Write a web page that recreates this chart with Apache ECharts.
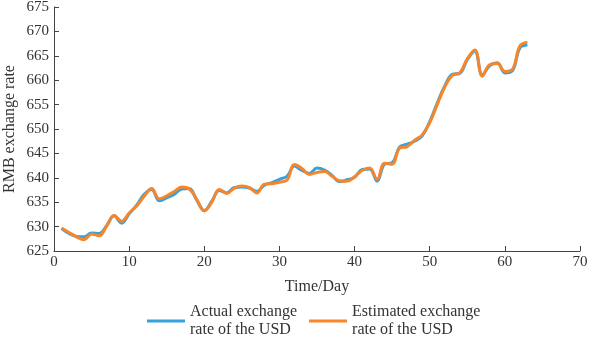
<!DOCTYPE html>
<html>
<head>
<meta charset="utf-8">
<script src="https://cdn.jsdelivr.net/npm/echarts@6/dist/echarts.min.js"></script>
<style>
  html, body { margin: 0; padding: 0; background: #fff; }
  #main { width: 593px; height: 337px; }
</style>
</head>
<body>
<div id="main"></div>
<script>
// day index
var days = [1, 2, 3, 4, 5, 6, 7, 8, 9, 10, 11, 12, 13, 14, 15, 16, 17, 18, 19, 20,
    21, 22, 23, 24, 25, 26, 27, 28, 29, 30, 31, 32, 33, 34, 35, 36, 37, 38, 39, 40,
    41, 42, 43, 44, 45, 46, 47, 48, 49, 50, 51, 52, 53, 54, 55, 56, 57, 58, 59, 60,
    61, 62, 63];

var actualRate = [629.6, 628.6, 628.0, 627.9, 628.7, 628.6, 630.2, 632.2, 630.7, 632.6,
    634.4, 636.6, 637.6, 635.3, 635.9, 636.6, 637.7, 637.8, 635.4, 633.3,
    635.2, 637.4, 636.9, 638.0, 638.1, 637.9, 637.2, 638.5, 639.0, 639.7,
    640.3, 642.4, 641.5, 640.9, 642.0, 641.6, 640.5, 639.2, 639.6, 640.1,
    641.7, 641.8, 639.3, 642.8, 643.1, 646.3, 646.9, 647.5, 648.6, 651.5,
    655.3, 658.8, 661.2, 661.4, 664.2, 666.0, 661.1, 663.0, 663.6, 661.5,
    661.9, 666.6, 667.2];

var estimatedRate = [629.7, 628.8, 627.9, 627.3, 628.5, 628.1, 630.1, 632.3, 631.1, 632.8,
    634.2, 636.2, 637.8, 635.7, 636.3, 637.2, 638.1, 637.7, 635.6, 633.2,
    635.0, 637.6, 636.8, 637.9, 638.3, 638.0, 636.9, 638.7, 638.8, 639.1,
    639.5, 642.7, 641.9, 640.7, 641.1, 641.3, 640.3, 639.4, 639.3, 640.2,
    641.5, 642.0, 639.7, 643.0, 642.8, 646.1, 646.4, 647.7, 648.8, 651.3,
    655.0, 658.6, 661.0, 661.5, 664.4, 666.2, 660.8, 663.2, 663.4, 661.8,
    662.2, 667.0, 667.8];

var seriesNames = ['Actual exchange\nrate of the USD', 'Estimated exchange\nrate of the USD'];

function pairs(xs, ys) {
    var out = [];
    for (var i = 0; i < xs.length; i++) out.push([xs[i], ys[i]]);
    return out;
}

var font = 'Liberation Serif, Times New Roman, serif';
var myChart = echarts.init(document.getElementById('main'));
var option = {
    animation: false,
    grid: {
        left: 54,
        right: 13,
        top: 7,
        bottom: 86,
        outerBoundsMode: 'none'
    },
    legend: {
        data: seriesNames,
        left: 142,
        top: 298,
        icon: 'rect',
        itemWidth: 38,
        itemHeight: 3,
        itemGap: 12,
        textStyle: { fontFamily: font, fontSize: 16, color: '#333', lineHeight: 18 }
    },
    xAxis: {
        type: 'value',
        min: 0,
        max: 70,
        interval: 10,
        name: 'Time/Day',
        nameLocation: 'middle',
        nameGap: 28,
        nameTextStyle: { fontFamily: font, fontSize: 16, color: '#333' },
        axisLine: { show: true, lineStyle: { color: '#444', width: 1 } },
        axisTick: { show: true, inside: true, length: 5, lineStyle: { color: '#444' } },
        axisLabel: { fontFamily: font, fontSize: 15, color: '#333', margin: 4 },
        splitLine: { show: false }
    },
    yAxis: {
        type: 'value',
        min: 625,
        max: 675,
        interval: 5,
        name: 'RMB exchange rate',
        nameLocation: 'middle',
        nameGap: 36,
        nameMoveOverlap: false,
        nameTextStyle: { fontFamily: font, fontSize: 16, color: '#333' },
        axisLine: { show: true, lineStyle: { color: '#444', width: 1 } },
        axisTick: { show: true, inside: true, length: 5, lineStyle: { color: '#444' } },
        axisLabel: { fontFamily: font, fontSize: 15, color: '#333', margin: 5 },
        splitLine: { show: false }
    },
    series: [
        {
            name: seriesNames[0],
            type: 'line',
            data: pairs(days, actualRate),
            smooth: 0.4,
            showSymbol: false,
            lineStyle: { width: 3, color: '#36a2dd' },
            itemStyle: { color: '#36a2dd' }
        },
        {
            name: seriesNames[1],
            type: 'line',
            data: pairs(days, estimatedRate),
            smooth: 0.4,
            showSymbol: false,
            lineStyle: { width: 3, color: '#f5862c' },
            itemStyle: { color: '#f5862c' }
        }
    ]
};
myChart.setOption(option);
</script>
</body>
</html>
